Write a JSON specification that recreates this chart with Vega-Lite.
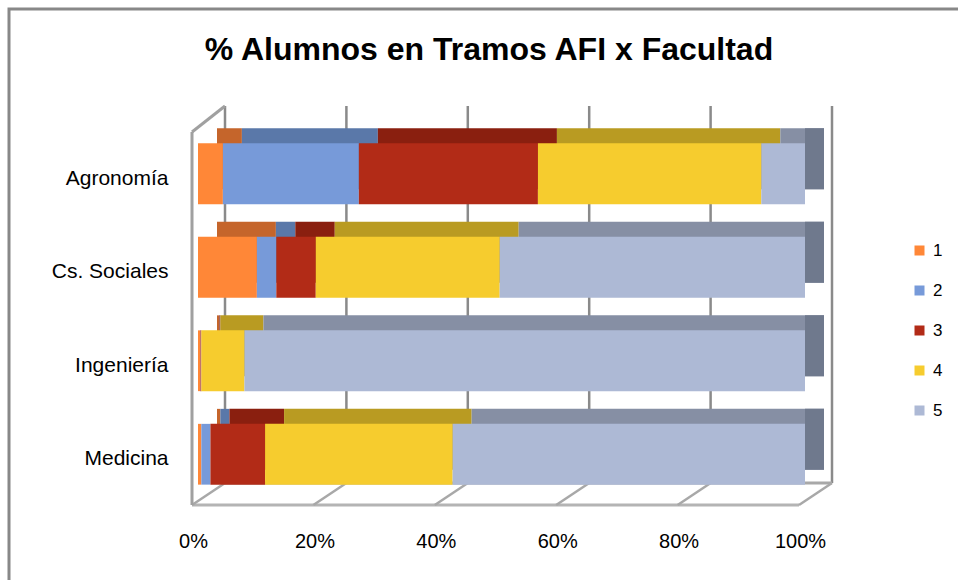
{
  "$schema": "https://vega.github.io/schema/vega-lite/v6.json",
  "autosize": "none",
  "width": 960,
  "height": 580,
  "padding": {"left": 9, "top": 9, "right": 0, "bottom": 0},
  "background": "white",
  "view": {"stroke": "#888888", "strokeWidth": 3},
  "title": {
    "text": "% Alumnos en Tramos AFI x Facultad",
    "fontSize": 32,
    "font": "Liberation Sans",
    "fontWeight": "bold",
    "color": "black",
    "anchor": "middle",
    "baseline": "alphabetic",
    "offset": -83
  },
  "config": {"font": "Liberation Sans"},
  "datasets": {
    "tramos": [
      {"facultad": "Agronomía", "tramo": "1", "pct": 4.1},
      {"facultad": "Agronomía", "tramo": "2", "pct": 22.4},
      {"facultad": "Agronomía", "tramo": "3", "pct": 29.5},
      {"facultad": "Agronomía", "tramo": "4", "pct": 36.8},
      {"facultad": "Agronomía", "tramo": "5", "pct": 7.2},
      {"facultad": "Cs. Sociales", "tramo": "1", "pct": 9.7},
      {"facultad": "Cs. Sociales", "tramo": "2", "pct": 3.2},
      {"facultad": "Cs. Sociales", "tramo": "3", "pct": 6.5},
      {"facultad": "Cs. Sociales", "tramo": "4", "pct": 30.3},
      {"facultad": "Cs. Sociales", "tramo": "5", "pct": 50.3},
      {"facultad": "Ingeniería", "tramo": "1", "pct": 0.35},
      {"facultad": "Ingeniería", "tramo": "2", "pct": 0.05},
      {"facultad": "Ingeniería", "tramo": "3", "pct": 0.15},
      {"facultad": "Ingeniería", "tramo": "4", "pct": 7.1},
      {"facultad": "Ingeniería", "tramo": "5", "pct": 92.35},
      {"facultad": "Medicina", "tramo": "1", "pct": 0.55},
      {"facultad": "Medicina", "tramo": "2", "pct": 1.5},
      {"facultad": "Medicina", "tramo": "3", "pct": 9.0},
      {"facultad": "Medicina", "tramo": "4", "pct": 30.9},
      {"facultad": "Medicina", "tramo": "5", "pct": 58.05}
    ],
    "grid": [{"v": 0}, {"v": 0.2}, {"v": 0.4}, {"v": 0.6}, {"v": 0.8}, {"v": 1}]
  },
  "resolve": {"scale": {"color": "independent"}},
  "layer": [
    {
      "data": {"name": "grid"},
      "mark": {"type": "rule", "color": "#8A8A8A", "strokeWidth": 2.5, "xOffset": 27, "yOffset": -67.8, "y2Offset": 28.7},
      "encoding": {
        "x": {"field": "v", "type": "quantitative", "scale": {"domain": [0, 1], "range": [189, 796]}},
        "y": {"datum": "Agronomía", "type": "nominal"},
        "y2": {"datum": "Medicina"}
      }
    },
    {
      "data": {"name": "grid"},
      "transform": [{"filter": "datum.v == 0"}],
      "mark": {"type": "rule", "color": "#A8A8A8", "strokeWidth": 3, "xOffset": 27, "x2Offset": 27, "yOffset": 28.7},
      "encoding": {
        "x": {"datum": 0, "type": "quantitative"},
        "x2": {"datum": 1},
        "y": {"datum": "Medicina", "type": "nominal"}
      }
    },
    {
      "data": {"name": "grid"},
      "transform": [{"filter": "datum.v == 0"}],
      "mark": {"type": "rule", "color": "#B4B4B4", "strokeWidth": 3, "xOffset": -6, "x2Offset": -6, "yOffset": 50.7},
      "encoding": {
        "x": {"datum": 0, "type": "quantitative"},
        "x2": {"datum": 1},
        "y": {"datum": "Medicina", "type": "nominal"}
      }
    },
    {
      "data": {"name": "grid"},
      "mark": {"type": "rule", "color": "#A8A8A8", "strokeWidth": 2.5, "xOffset": -6, "x2Offset": 27, "yOffset": 50.7, "y2Offset": 28.7},
      "encoding": {
        "x": {"field": "v", "type": "quantitative"},
        "x2": {"field": "v"},
        "y": {"datum": "Medicina", "type": "nominal"},
        "y2": {"datum": "Medicina"}
      }
    },
    {
      "data": {"name": "grid"},
      "transform": [{"filter": "datum.v == 0"}],
      "mark": {"type": "rule", "color": "#A0A0A0", "strokeWidth": 3, "xOffset": -6, "yOffset": -41.8, "y2Offset": 50.7},
      "encoding": {
        "x": {"field": "v", "type": "quantitative"},
        "y": {"datum": "Agronomía", "type": "nominal"},
        "y2": {"datum": "Medicina"}
      }
    },
    {
      "data": {"name": "grid"},
      "transform": [{"filter": "datum.v == 0"}],
      "mark": {"type": "rule", "color": "#A0A0A0", "strokeWidth": 3, "xOffset": -6, "x2Offset": 27, "yOffset": -41.8, "y2Offset": -67.8},
      "encoding": {
        "x": {"field": "v", "type": "quantitative"},
        "x2": {"field": "v"},
        "y": {"datum": "Agronomía", "type": "nominal"},
        "y2": {"datum": "Agronomía"}
      }
    },
    {
      "data": {"name": "tramos"},
      "mark": {"type": "bar", "xOffset": 19, "x2Offset": 19, "yOffset": -15, "y2Offset": -15},
      "encoding": {
        "y": {"field": "facultad", "type": "nominal"},
        "x": {"field": "pct", "type": "quantitative", "stack": "normalize"},
        "order": {"field": "tramo", "type": "ordinal"},
        "color": {
          "field": "tramo", "type": "nominal",
          "scale": {"domain": ["1", "2", "3", "4", "5"], "range": ["#C5652B", "#5A78A9", "#8A1F0F", "#B99B22", "#868FA4"]},
          "legend": null
        }
      }
    },
    {
      "data": {"name": "tramos"},
      "transform": [{"filter": "datum.tramo == '5'"}],
      "mark": {"type": "bar", "color": "#6F798D", "x2Offset": 19, "yOffset": -15, "y2Offset": -15},
      "encoding": {
        "y": {"field": "facultad", "type": "nominal"},
        "x": {"datum": 1, "type": "quantitative"},
        "x2": {"datum": 1}
      }
    },
    {
      "data": {"name": "tramos"},
      "mark": {"type": "bar"},
      "encoding": {
        "y": {
          "field": "facultad", "type": "nominal",
          "scale": {"domain": ["Agronomía", "Cs. Sociales", "Ingeniería", "Medicina"], "range": [118, 492], "paddingInner": 0.35, "paddingOuter": 0.175},
          "axis": {"title": null, "domain": false, "ticks": false, "tickSize": 0, "labelPadding": 0, "offset": -159, "labelFontSize": 21, "labelColor": "black", "labelFont": "Liberation Sans", "labelOffset": 5, "grid": false}
        },
        "x": {
          "field": "pct", "type": "quantitative", "stack": "normalize",
          "scale": {"domain": [0, 1], "range": [189, 796]},
          "axis": {"title": null, "format": ".0%", "values": [0, 0.2, 0.4, 0.6, 0.8, 1], "grid": false, "domain": false, "ticks": false, "tickSize": 0, "labelPadding": 0, "offset": -58, "labelFontSize": 20, "labelColor": "black", "labelFont": "Liberation Sans", "labelOffset": -5, "labelFlush": false}
        },
        "order": {"field": "tramo", "type": "ordinal"},
        "color": {
          "field": "tramo", "type": "nominal",
          "scale": {"domain": ["1", "2", "3", "4", "5"], "range": ["#FF8737", "#779AD9", "#B22B17", "#F6CC2E", "#ADB9D5"]},
          "legend": {"title": null, "orient": "none", "legendX": 902, "legendY": 233, "symbolType": "square", "symbolSize": 100, "symbolStrokeWidth": 0, "labelFontSize": 17, "labelColor": "black", "labelFont": "Liberation Sans", "rowPadding": 22, "labelOffset": 5, "padding": 0}
        }
      }
    }
  ]
}
